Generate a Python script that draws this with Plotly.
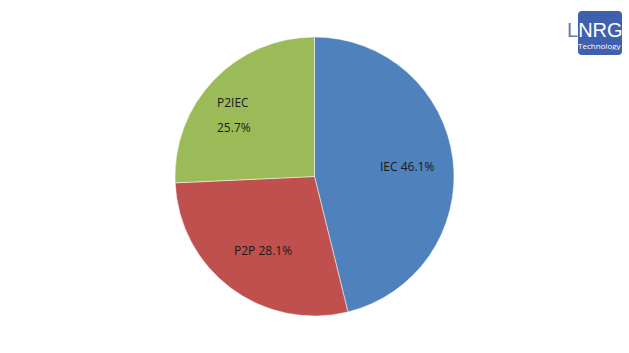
import plotly.graph_objects as go

categories = ["IEC", "P2P", "P2IEC"]
shares = [46.1, 28.1, 25.7]
colors = ["#4F81BD", "#C0504D", "#9BBB59"]

W, H = 629, 353
cx, cy, r = 314.5, 176.5, 139.5

fig = go.Figure(go.Pie(
    labels=categories,
    values=shares,
    sort=False,
    direction="clockwise",
    rotation=0,
    marker=dict(colors=colors, line=dict(color="white", width=0.5)),
    textinfo="none",
    hoverinfo="skip",
    showlegend=False,
    domain=dict(x=[(cx - r) / W, (cx + r) / W], y=[(H - cy - r) / H, (H - cy + r) / H]),
))

label_font = dict(family="Open Sans, Liberation Sans, sans-serif", size=12, color="#1a1a1a")
pos = {"IEC": [(407, 166)], "P2P": [(263, 250)], "P2IEC": [(233, 102), (234, 128)]}
for cat, val in zip(categories, shares):
    p = pos[cat]
    texts = [f"{cat} {val}%"] if len(p) == 1 else [cat, f"{val}%"]
    for (px, py), t in zip(p, texts):
        fig.add_annotation(x=px / W, y=(H - py) / H, xref="paper", yref="paper",
                           text=t, showarrow=False, font=label_font,
                           xanchor="center", yanchor="middle")


def px2p(x, y):
    return x / W, (H - y) / H


def P(x, y):
    a, b = px2p(x, y)
    return f"{a:.5f},{b:.5f}"


# logo: rounded box
x0, x1, y0, y1, rr = 578, 622, 11, 55, 4
path = (f"M {P(x0 + rr, y0)} L {P(x1 - rr, y0)} Q {P(x1, y0)} {P(x1, y0 + rr)} "
        f"L {P(x1, y1 - rr)} Q {P(x1, y1)} {P(x1 - rr, y1)} "
        f"L {P(x0 + rr, y1)} Q {P(x0, y1)} {P(x0, y1 - rr)} "
        f"L {P(x0, y0 + rr)} Q {P(x0, y0)} {P(x0 + rr, y0)} Z")
fig.add_shape(type="path", xref="paper", yref="paper", path=path,
              fillcolor="#3F5FAF", line=dict(width=0), layer="below")
ax, ay = px2p(595, 30)
fig.add_annotation(x=ax, y=ay, xref="paper", yref="paper",
                   text='<span style="color:#6a7aa8">L</span>NRG', showarrow=False,
                   font=dict(family="Liberation Sans Narrow, Arial Narrow, sans-serif", size=20, color="white"),
                   xanchor="center", yanchor="middle", height=17, borderpad=0)
ax, ay = px2p(600, 45)
fig.add_annotation(x=ax, y=ay, xref="paper", yref="paper",
                   text="Technology", showarrow=False,
                   font=dict(family="Open Sans, sans-serif", size=8, color="white"),
                   xanchor="center", yanchor="middle", height=9, borderpad=0)

fig.update_layout(width=W, height=H, margin=dict(l=0, r=0, t=0, b=0),
                  paper_bgcolor="white", plot_bgcolor="white")
fig.write_html("out.html")
